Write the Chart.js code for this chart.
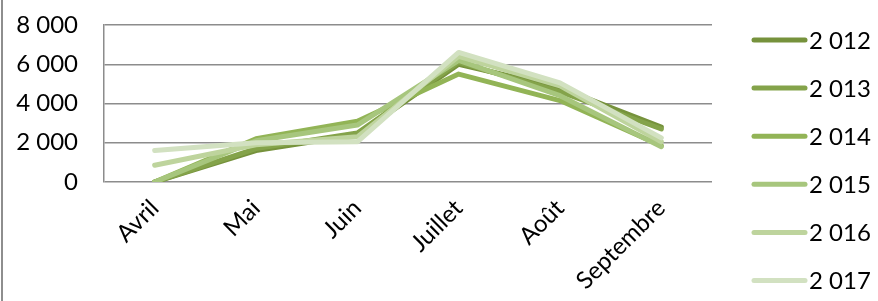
<!DOCTYPE html>
<html>
<head>
<meta charset="utf-8">
<script src="https://cdn.jsdelivr.net/npm/chart.js@4.4.1/dist/chart.umd.min.js"></script>
<style>
  html, body { margin: 0; padding: 0; background: #fff; }
  #wrap { position: relative; width: 878px; height: 301px; overflow: hidden; }
  #edge { position: absolute; left: 1px; top: 0; width: 2px; height: 301px; background: #8e8e8e; }
</style>
</head>
<body>
<div id="wrap">
  <canvas id="chart" width="878" height="301"></canvas>
  <div id="edge"></div>
</div>
<script>
// categories and series
const months = ['Avril', 'Mai', 'Juin', 'Juillet', 'Août', 'Septembre'];
const years = ['2 012', '2 013', '2 014', '2 015', '2 016', '2 017'];
const y2012 = [0, 1600, 2400, 6000, 4800, 2800];
const y2013 = [0, 1700, 2500, 6100, 4600, 2700];
const y2014 = [0, 2200, 3100, 5500, 4150, 1850];
const y2015 = [0, 2100, 2900, 6200, 4400, 1800];
const y2016 = [850, 1900, 2300, 6400, 4900, 2050];
const y2017 = [1600, 2000, 2050, 6600, 5050, 2250];
const yTicks = [0, 2000, 4000, 6000, 8000];

const colors = ['#76923c', '#84a34a', '#92b456', '#a7c67d', '#bed49d', '#d2e1c1'];
const series = [y2012, y2013, y2014, y2015, y2016, y2017];

const fmt = v => String(v).replace(/\B(?=(\d{3})+(?!\d))/g, ' ');

Chart.defaults.font.family = 'Lato';
Chart.defaults.font.size = 24;
Chart.defaults.color = '#000';

// legend on the right, one line per year
const sideLegend = {
  id: 'sideLegend',
  afterDraw(chart) {
    const ctx = chart.ctx;
    ctx.save();
    chart.data.datasets.forEach((ds, i) => {
      const y = 40 + i * 48.1;
      ctx.strokeStyle = ds.borderColor;
      ctx.lineWidth = 5;
      ctx.lineCap = 'round';
      ctx.beginPath();
      ctx.moveTo(754, y);
      ctx.lineTo(805, y);
      ctx.stroke();
      ctx.fillStyle = '#000';
      ctx.font = '24px Lato';
      ctx.textBaseline = 'middle';
      ctx.fillText(ds.label, 809, y + 1);
    });
    ctx.restore();
  }
};

new Chart(document.getElementById('chart'), {
  type: 'line',
  data: {
    labels: months,
    datasets: series.map((s, i) => ({
      label: years[i],
      data: s,
      borderColor: colors[i],
      backgroundColor: colors[i],
      borderWidth: 5,
      borderCapStyle: 'round',
      borderJoinStyle: 'round',
      pointRadius: 0,
      tension: 0,
      order: series.length - i
    }))
  },
  options: {
    responsive: false,
    animation: false,
    layout: { padding: { top: 25, right: 166, left: 0, bottom: 0 } },
    plugins: { legend: { display: false }, tooltip: { enabled: false } },
    scales: {
      x: {
        offset: true,
        grid: { display: false },
        border: { display: false },
        ticks: { minRotation: 45, maxRotation: 45, padding: 4, autoSkip: false },
        afterFit: s => { s.height = 119; }
      },
      y: {
        min: 0,
        max: 8000,
        afterBuildTicks: s => { s.ticks = yTicks.map(v => ({ value: v })); },
        grid: { color: '#8c8c8c', lineWidth: 1.5, drawTicks: true, tickLength: 26, tickColor: 'rgba(0,0,0,0)' },
        border: { display: true, color: '#8c8c8c', width: 1.5 },
        ticks: { padding: 0, callback: v => fmt(v) },
        afterFit: s => { s.width = 104; }
      }
    }
  },
  plugins: [sideLegend]
});
</script>
</body>
</html>
